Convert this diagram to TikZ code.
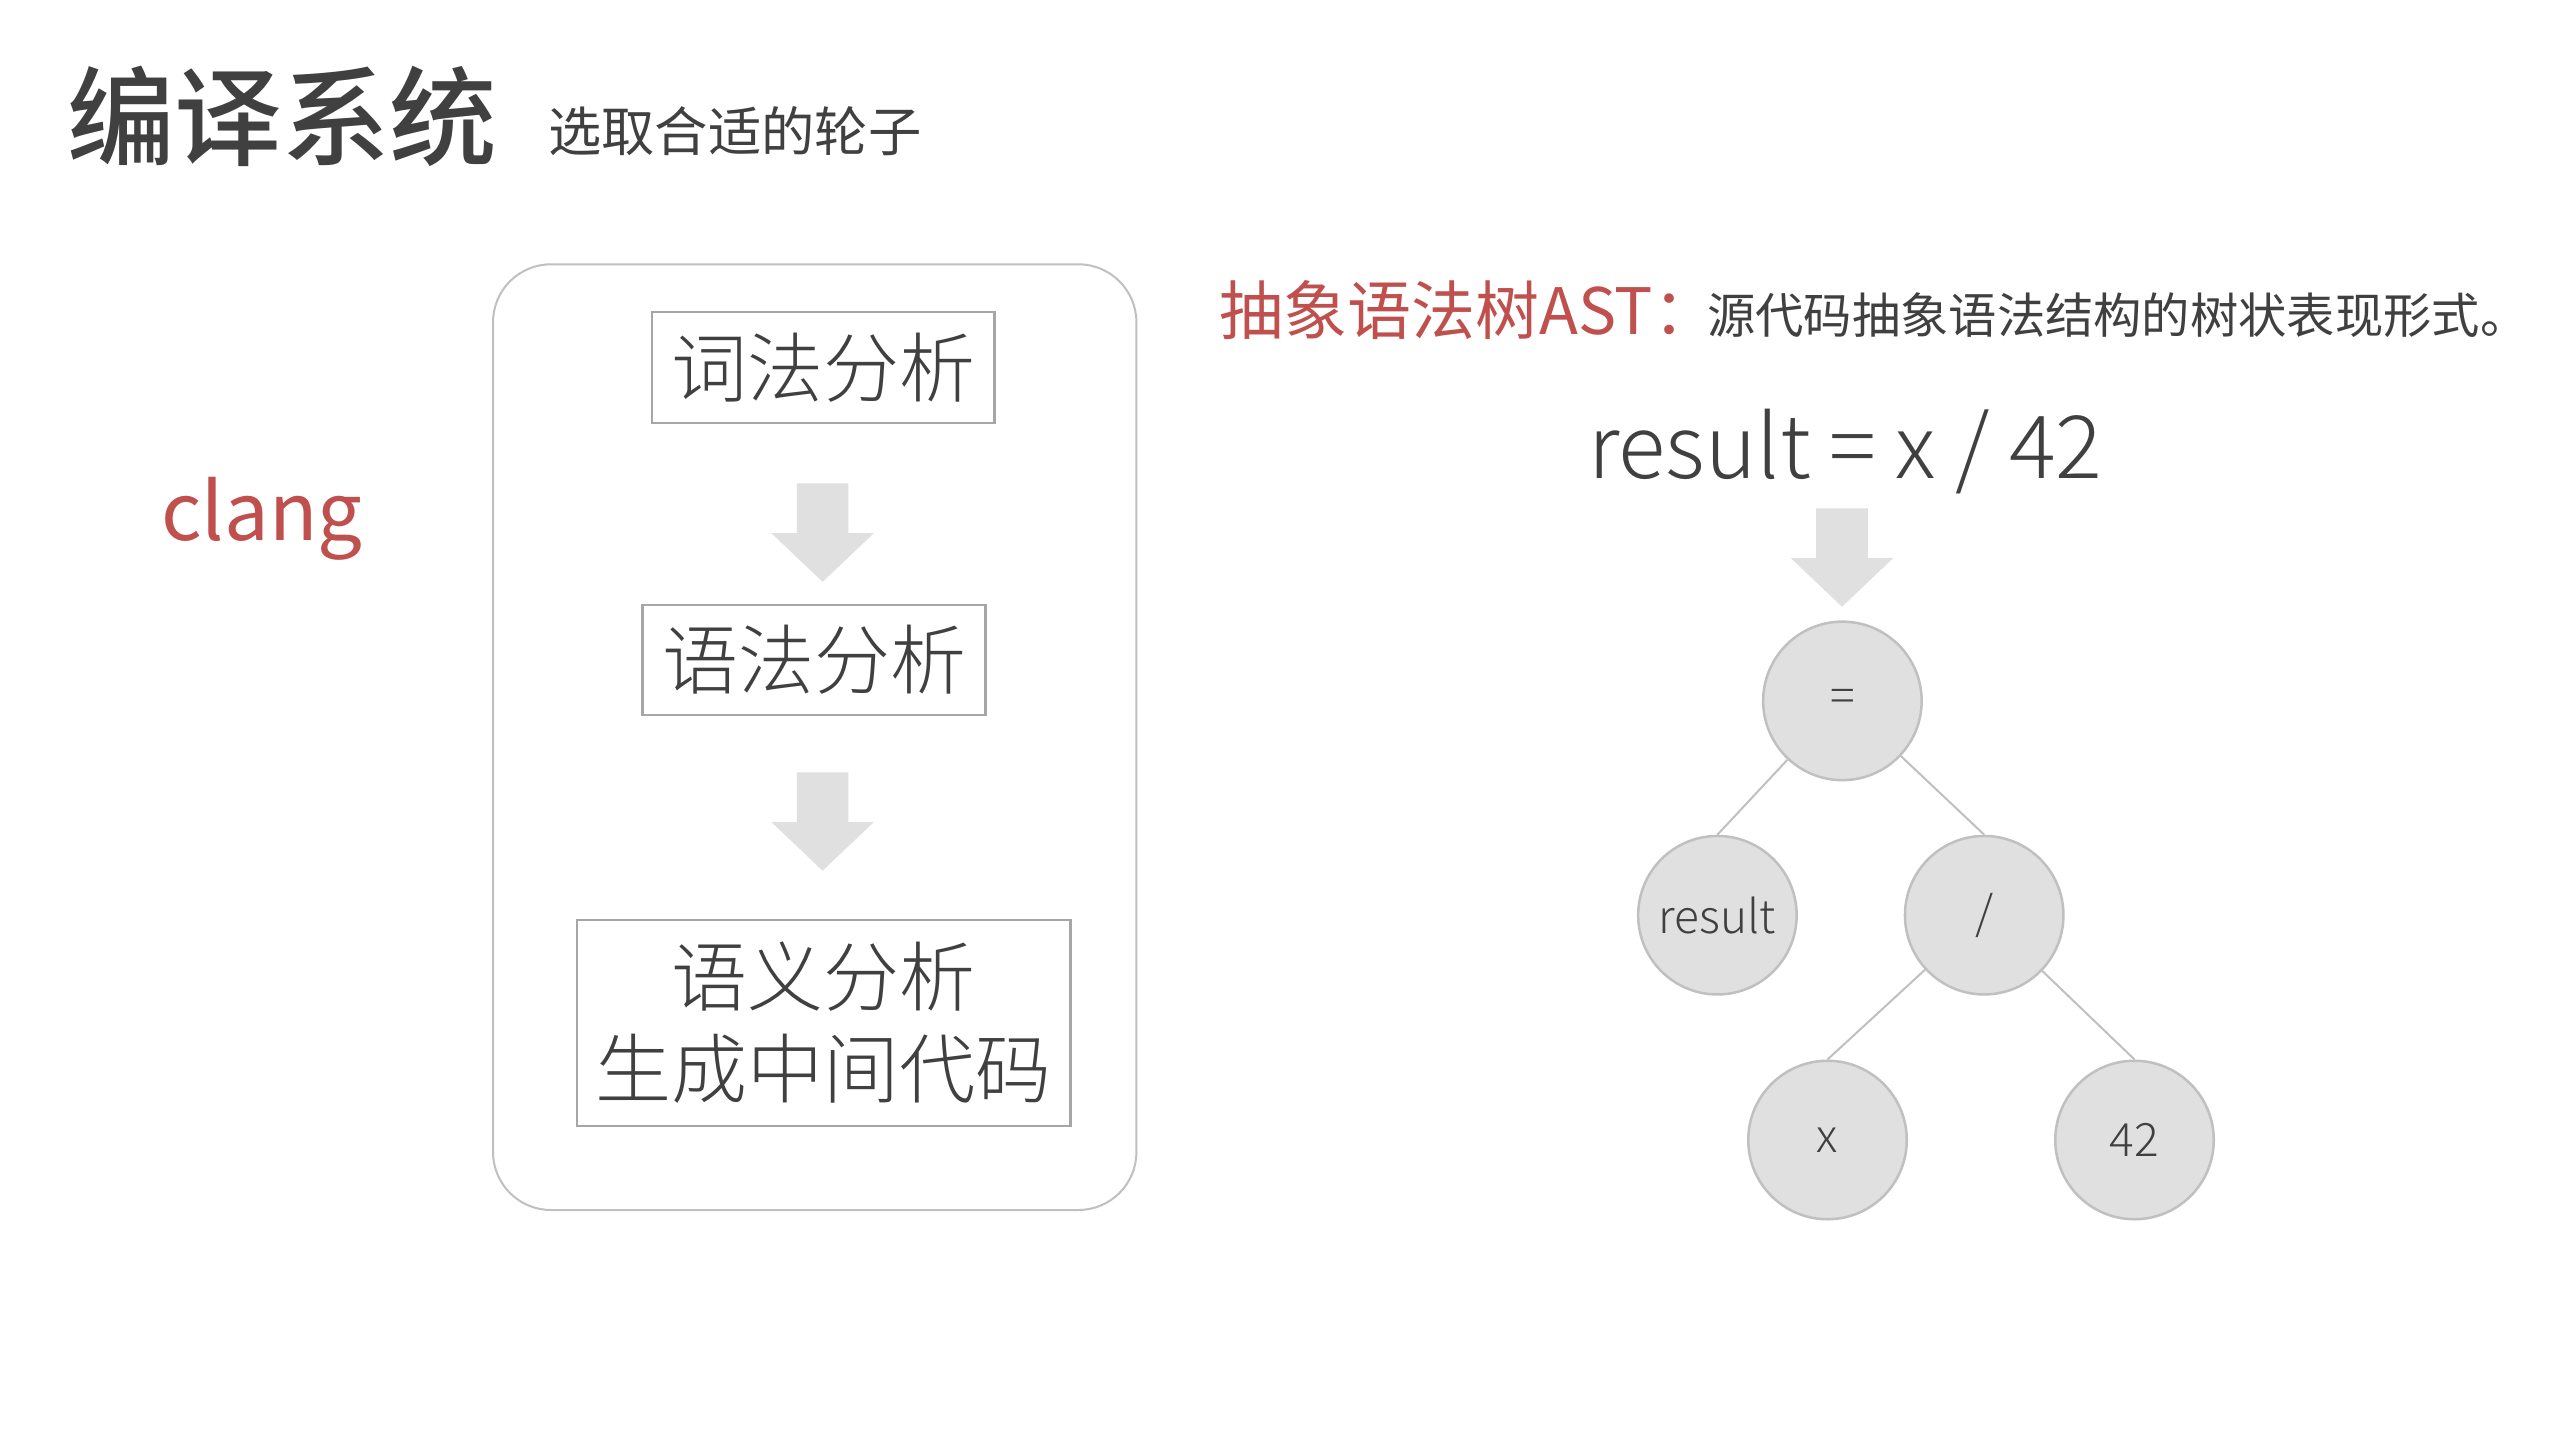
\documentclass[tikz,border=0pt]{standalone}
\usepackage{fontspec}
\setmainfont{Noto Sans CJK SC}
\newfontfamily\lightfont{Noto Sans CJK SC}[UprightFont=* Light,BoldFont=* Light]
\newfontfamily\mediumfont{Noto Sans CJK SC}[UprightFont=* Medium,BoldFont=* Medium]
\definecolor{txtdark}{HTML}{404040}
\definecolor{redtxt}{HTML}{C0504D}
\definecolor{framegray}{HTML}{C0C0C0}
\definecolor{boxgray}{HTML}{A6A6A6}
\definecolor{fillgray}{HTML}{E0E0E0}
\begin{document}
\begin{tikzpicture}[x=1pt,y=-1pt,
  txt/.style={inner sep=0pt,text=txtdark},
  stagebox/.style={draw=boxgray,line width=2.5pt,inner sep=0pt,text=txtdark,
    font=\lightfont\fontsize{76}{92}\selectfont,align=center},
  arrowfill/.style={fill=fillgray,draw=none},
  astnode/.style={circle,draw=framegray,line width=2.5pt,fill=fillgray,
    minimum size=158.5pt,inner sep=0pt,text=txtdark,
    font=\lightfont\fontsize{46}{55}\selectfont},
  conn/.style={draw=framegray,line width=2pt}]
\useasboundingbox[fill=white] (0,0) rectangle (2559,1439);

% titles
\node[txt,anchor=west,font=\mediumfont\fontsize{107.5}{129}\selectfont] (title) at (67,116) {编译系统};
\node[txt,anchor=west,font=\fontsize{53.3}{64}\selectfont] (subtitle) at (548,131) {选取合适的轮子};
\node[txt,anchor=base west,text=redtxt,font=\fontsize{79.5}{95}\selectfont] (clang) at (161,540) {clang};

% left frame
\node[draw=framegray,line width=2pt,rounded corners=58pt,inner sep=0pt,
  minimum width=643.4pt,minimum height=945.7pt] (frame) at (814.7,737.15) {};

\node[stagebox,minimum width=342.5pt,minimum height=111pt] (lex) at (823,367.6) {词法分析};
\node[stagebox,minimum width=343pt,minimum height=110pt] (syn) at (814.2,659.9) {语法分析};
\node[stagebox,minimum width=493.6pt,minimum height=205.7pt] (sem) at (823.6,1022.9) {语义分析\\生成中间代码};

% block arrows (tail coordinates)
\coordinate (a1) at (822.6,483.4);
\coordinate (a2) at (822.6,772.3);
\coordinate (a3) at (1842,508.3);
\foreach \a in {a1,a2,a3}{
  \fill[arrowfill] (\a) ++(-25.8,0) -- ++(51.6,0) -- ++(0,49.8) -- ++(25.4,0)
    -- ++(-51.2,48.6) -- ++(-51.2,-48.6) -- ++(25.4,0) -- cycle;
}

% right side
\node[txt,anchor=west,text=redtxt,font=\fontsize{64}{76}\selectfont] (asthead) at (1219,310) {抽象语法树AST：};
\node[txt,anchor=west,font=\fontsize{48.3}{58}\selectfont] (astdesc) at (1707,315) {源代码抽象语法结构的树状表现形式。};

\node[txt,anchor=base,font=\lightfont\fontsize{87.3}{105}\selectfont] (expr) at (1845.5,478.5) {result = x / 42};

\node[astnode] (eq) at (1842.4,700.9) {=};
\node[astnode] (res) at (1717.4,915.2) {result};
\node[astnode] (div) at (1984.2,915.2) {/};
\node[astnode] (xn) at (1827.5,1140) {x};
\node[astnode] (n42) at (2134.5,1140) {42};

\draw[conn] (eq) -- (res.north);
\draw[conn] (eq) -- (div.north);
\draw[conn] (div) -- (xn.north);
\draw[conn] (div) -- (n42.north);
\end{tikzpicture}
\end{document}
